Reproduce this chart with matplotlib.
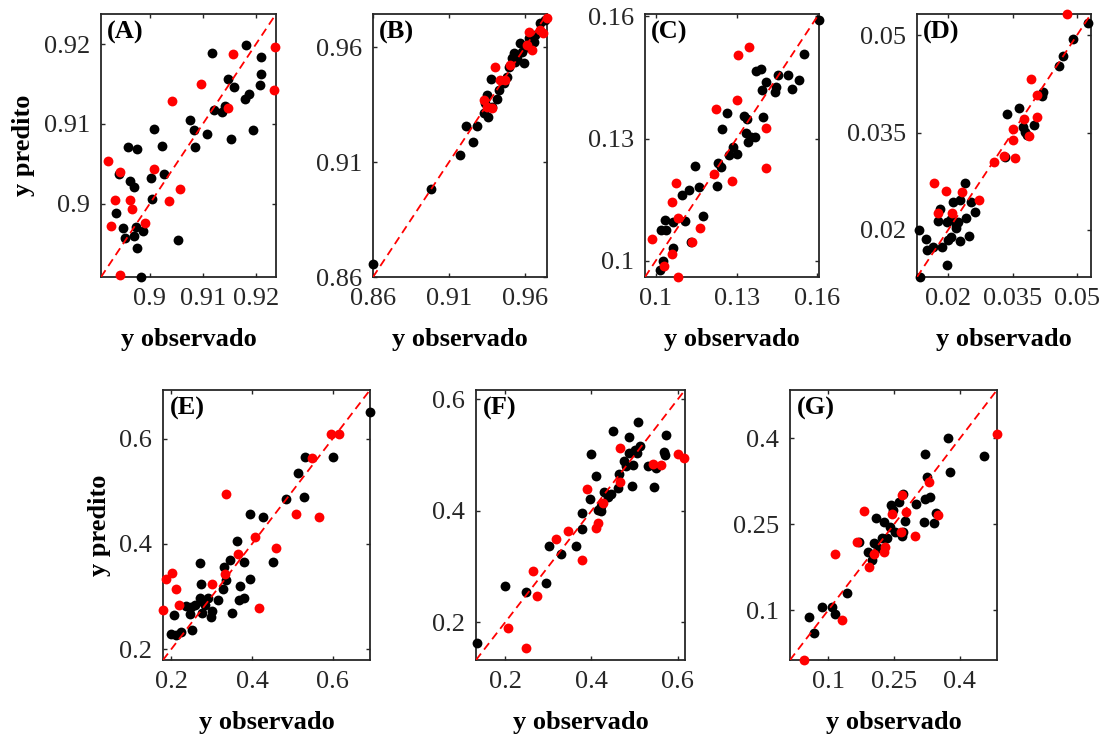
import matplotlib
matplotlib.use('Agg')
import matplotlib.pyplot as plt

plt.rcParams['font.family'] = ['Liberation Serif', 'DejaVu Serif']

# ---------------- data (black = training, red = test) ----------------
a_obs_k = [0.9117, 0.9182, 0.9209, 0.9210, 0.9207, 0.9148, 0.9158, 0.9188, 0.9180, 0.9121, 0.9136, 0.9141,
           0.9076, 0.9084, 0.9108, 0.9086, 0.9153, 0.9194, 0.9007, 0.9023, 0.8959, 0.8975, 0.8941, 0.8963,
           0.8970, 0.9002, 0.9026, 0.9004, 0.8936, 0.8949, 0.8974, 0.8988, 0.8954, 0.8971, 0.8976, 0.9054, 0.8983]
a_pred_k = [0.9189, 0.9199, 0.9184, 0.9163, 0.9149, 0.9156, 0.9146, 0.9137, 0.9131, 0.9117, 0.9115, 0.9122,
            0.9105, 0.9092, 0.9087, 0.9071, 0.9081, 0.9093, 0.9094, 0.9073, 0.9071, 0.9068, 0.9037, 0.9029,
            0.9021, 0.9032, 0.9037, 0.9006, 0.8988, 0.8970, 0.8971, 0.8966, 0.8957, 0.8959, 0.8944, 0.8955, 0.8908]
a_obs_r = [0.9156, 0.9236, 0.9235, 0.9096, 0.9041, 0.9148, 0.8922, 0.8943, 0.9007, 0.9057, 0.8934, 0.8963,
           0.8966, 0.9036, 0.8927, 0.8991, 0.8943]
a_pred_r = [0.9188, 0.9197, 0.9143, 0.9150, 0.9129, 0.9120, 0.9053, 0.9040, 0.9044, 0.9019, 0.9004, 0.9004,
            0.8993, 0.9003, 0.8972, 0.8976, 0.8911]

b_obs_k = [0.8600, 0.8984, 0.9175, 0.9256, 0.9214, 0.9284, 0.9332, 0.9357, 0.9350, 0.9376, 0.9416, 0.9427,
           0.9482, 0.9493, 0.9525, 0.9547, 0.9569, 0.9591, 0.9613, 0.9657, 0.9701, 0.9734, 0.9668, 0.9383,
           0.9460, 0.9536, 0.9339, 0.9624, 0.9580, 0.9514]
b_pred_k = [0.8655, 0.8981, 0.9130, 0.9188, 0.9257, 0.9257, 0.9312, 0.9295, 0.9392, 0.9462, 0.9373, 0.9414,
            0.9472, 0.9515, 0.9574, 0.9552, 0.9617, 0.9530, 0.9603, 0.9624, 0.9704, 0.9719, 0.9653, 0.9341,
            0.9443, 0.9537, 0.9356, 0.9639, 0.9581, 0.9552]
b_obs_r = [0.9405, 0.9328, 0.9383, 0.9438, 0.9504, 0.9624, 0.9646, 0.9701, 0.9718, 0.9745, 0.9613, 0.9471, 0.9350]
b_pred_r = [0.9515, 0.9370, 0.9334, 0.9457, 0.9523, 0.9668, 0.9588, 0.9675, 0.9661, 0.9726, 0.9610, 0.9457, 0.9341]

c_obs_k = [0.1606, 0.1549, 0.1371, 0.1392, 0.1452, 0.1492, 0.1532, 0.1411, 0.1393, 0.1448, 0.1442, 0.1506,
           0.1263, 0.1327, 0.1339, 0.1398, 0.1245, 0.1334, 0.1355, 0.1368, 0.1343, 0.1287, 0.1300, 0.1272,
           0.1232, 0.1244, 0.1145, 0.1226, 0.1096, 0.1124, 0.1160, 0.1176, 0.1034, 0.1065, 0.1108, 0.1018,
           0.1038, 0.1129, 0.1063, 0.1028, 0.1016]
c_pred_k = [0.1591, 0.1507, 0.1467, 0.1470, 0.1455, 0.1457, 0.1445, 0.1440, 0.1419, 0.1426, 0.1415, 0.1421,
            0.1363, 0.1355, 0.1349, 0.1354, 0.1323, 0.1313, 0.1304, 0.1303, 0.1292, 0.1280, 0.1262, 0.1259,
            0.1239, 0.1231, 0.1233, 0.1183, 0.1161, 0.1173, 0.1181, 0.1109, 0.1101, 0.1095, 0.1098, 0.1075,
            0.1075, 0.1046, 0.1031, 0.0999, 0.0978]
c_obs_r = [0.1345, 0.1305, 0.1302, 0.1223, 0.1411, 0.1411, 0.1216, 0.1282, 0.1075, 0.1061, 0.1084, 0.1166,
           0.0985, 0.1134, 0.1059, 0.1032, 0.1084]
c_pred_r = [0.1526, 0.1505, 0.1395, 0.1372, 0.1327, 0.1228, 0.1214, 0.1196, 0.1191, 0.1144, 0.1106, 0.1081,
            0.1053, 0.1045, 0.1016, 0.0987, 0.0960]

d_obs_k = [0.0525, 0.0491, 0.0468, 0.0458, 0.0422, 0.0419, 0.0366, 0.0337, 0.0375, 0.0379, 0.0383, 0.0400,
           0.0332, 0.0239, 0.0227, 0.0211, 0.0253, 0.0180, 0.0176, 0.0196, 0.0207, 0.0223, 0.0242, 0.0262,
           0.0219, 0.0200, 0.0207, 0.0185, 0.0164, 0.0150, 0.0149, 0.0132, 0.0228, 0.0248, 0.0198, 0.0133, 0.0219]
d_pred_k = [0.0519, 0.0495, 0.0468, 0.0452, 0.0413, 0.0407, 0.0388, 0.0379, 0.0359, 0.0351, 0.0346, 0.0361,
            0.0313, 0.0272, 0.0246, 0.0243, 0.0243, 0.0232, 0.0214, 0.0212, 0.0217, 0.0212, 0.0218, 0.0228,
            0.0202, 0.0184, 0.0188, 0.0173, 0.0173, 0.0168, 0.0186, 0.0200, 0.0183, 0.0190, 0.0145, 0.0127, 0.0207]
d_obs_r = [0.0476, 0.0394, 0.0408, 0.0407, 0.0377, 0.0352, 0.0388, 0.0351, 0.0329, 0.0355, 0.0307, 0.0167,
           0.0194, 0.0231, 0.0272, 0.0176, 0.0209]
d_pred_r = [0.0533, 0.0432, 0.0408, 0.0374, 0.0371, 0.0355, 0.0344, 0.0339, 0.0314, 0.0310, 0.0305, 0.0272,
            0.0260, 0.0258, 0.0246, 0.0226, 0.0226]

e_obs_k = [0.692, 0.5995, 0.5318, 0.5128, 0.4831, 0.5277, 0.3947, 0.4277, 0.3633, 0.3468, 0.3303, 0.3798,
           0.4525, 0.2717, 0.3369, 0.2750, 0.3947, 0.3716, 0.3286, 0.2708, 0.2915, 0.3163, 0.2791, 0.3683,
           0.3798, 0.2378, 0.2502, 0.2585, 0.2832, 0.2461, 0.2774, 0.3022, 0.2997, 0.3518, 0.2064, 0.2527,
           0.2238, 0.2006, 0.2130]
e_pred_k = [0.6497, 0.5656, 0.5656, 0.5340, 0.4853, 0.4885, 0.4562, 0.4505, 0.4057, 0.3696, 0.3570, 0.3665,
            0.3665, 0.3633, 0.3317, 0.3235, 0.3336, 0.3203, 0.3146, 0.2969, 0.2982, 0.2938, 0.2906, 0.2938,
            0.2969, 0.2830, 0.2811, 0.2843, 0.2843, 0.2666, 0.2685, 0.2729, 0.2622, 0.2685, 0.2653, 0.2369,
            0.2337, 0.2287, 0.2274]
e_obs_r = [0.5954, 0.6160, 0.5475, 0.3353, 0.5087, 0.5665, 0.4079, 0.4591, 0.3666, 0.3328, 0.3006, 0.1883,
           0.2023, 0.2130, 0.2196, 0.4170, 0.1800]
e_pred_r = [0.6086, 0.6086, 0.5637, 0.4948, 0.4562, 0.4505, 0.4126, 0.3918, 0.3804, 0.3431, 0.3241, 0.3336,
            0.3443, 0.3140, 0.2843, 0.2792, 0.2748]

f_obs_k = [0.5087, 0.4507, 0.4870, 0.5737, 0.5126, 0.5010, 0.4870, 0.5048, 0.5690, 0.5706, 0.3989, 0.4747,
           0.4955, 0.4801, 0.5304, 0.5489, 0.4646, 0.4097, 0.4948, 0.5458, 0.4623, 0.4298, 0.4453, 0.4375,
           0.3973, 0.4221, 0.4143, 0.4221, 0.3787, 0.3772, 0.3640, 0.3014, 0.3292, 0.2937, 0.2473, 0.1993, 0.1335]
f_pred_k = [0.5601, 0.5434, 0.5332, 0.5362, 0.5170, 0.5092, 0.5033, 0.5033, 0.5063, 0.5003, 0.5015, 0.4895,
            0.4823, 0.4811, 0.4811, 0.4775, 0.4655, 0.4631, 0.4452, 0.4434, 0.4404, 0.4332, 0.4296, 0.4254,
            0.4206, 0.4092, 0.4015, 0.3997, 0.3961, 0.3673, 0.3374, 0.3374, 0.3224, 0.2697, 0.2536, 0.2649, 0.1619]
f_obs_r = [0.4662, 0.6015, 0.6147, 0.5435, 0.5613, 0.4669, 0.3888, 0.4259, 0.4159, 0.4105, 0.3463, 0.3169,
           0.3772, 0.2650, 0.2743, 0.2070, 0.2480]
f_pred_r = [0.5134, 0.5015, 0.4955, 0.4835, 0.4823, 0.4512, 0.4392, 0.4134, 0.3775, 0.3685, 0.3637, 0.3494,
            0.3116, 0.2925, 0.2476, 0.1901, 0.1530]

g_obs_k = [0.3719, 0.3194, 0.4557, 0.3780, 0.3247, 0.3323, 0.3194, 0.2714, 0.2615, 0.3004, 0.2433, 0.2486,
           0.3453, 0.2083, 0.2752, 0.3179, 0.3400, 0.2280, 0.2410, 0.2524, 0.2714, 0.2676, 0.1702, 0.2052,
           0.2220, 0.2334, 0.1900, 0.1991, 0.1420, 0.0849, 0.1078, 0.1154, 0.0568, 0.0674, 0.2128]
g_pred_k = [0.4013, 0.3727, 0.3698, 0.3418, 0.3331, 0.2981, 0.2940, 0.3022, 0.2894, 0.2853, 0.2836, 0.2748,
            0.2690, 0.2602, 0.2556, 0.2544, 0.2515, 0.2533, 0.2457, 0.2369, 0.2369, 0.2299, 0.2195, 0.2165,
            0.2264, 0.2253, 0.2020, 0.1874, 0.1291, 0.1047, 0.1047, 0.0930, 0.0884, 0.0592, 0.2078]
g_obs_r = [0.4846, 0.3293, 0.2684, 0.1808, 0.2448, 0.2768, 0.3499, 0.2661, 0.2966, 0.1664, 0.2303, 0.2258,
           0.2052, 0.1154, 0.1930, 0.1306, 0.0453]
g_pred_r = [0.4077, 0.3243, 0.3010, 0.2731, 0.2678, 0.2707, 0.2661, 0.2369, 0.2299, 0.2195, 0.2107, 0.2020,
            0.1973, 0.1979, 0.1758, 0.0825, 0.0126]

panel_tags = ['(A)', '(B)', '(C)', '(D)', '(E)', '(F)', '(G)']
panel_limits = [[0.8908, 0.9238], [0.8600, 0.9745], [0.0960, 0.1606], [0.0127, 0.0533],
                [0.180, 0.692], [0.132, 0.617], [0.0126, 0.4846]]
tick_values = [[0.90, 0.91, 0.92], [0.86, 0.91, 0.96], [0.10, 0.13, 0.16], [0.02, 0.035, 0.05],
               [0.2, 0.4, 0.6], [0.2, 0.4, 0.6], [0.1, 0.25, 0.4]]
tick_labels = [['0.9', '0.91', '0.92'], ['0.86', '0.91', '0.96'], ['0.1', '0.13', '0.16'],
               ['0.02', '0.035', '0.05'], ['0.2', '0.4', '0.6'], ['0.2', '0.4', '0.6'],
               ['0.1', '0.25', '0.4']]

series = [(a_obs_k, a_pred_k, a_obs_r, a_pred_r), (b_obs_k, b_pred_k, b_obs_r, b_pred_r),
          (c_obs_k, c_pred_k, c_obs_r, c_pred_r), (d_obs_k, d_pred_k, d_obs_r, d_pred_r),
          (e_obs_k, e_pred_k, e_obs_r, e_pred_r), (f_obs_k, f_pred_k, f_obs_r, f_pred_r),
          (g_obs_k, g_pred_k, g_obs_r, g_pred_r)]

# ---------------- layout (pixels of a 1110x737 canvas) ----------------
W, H = 1110, 737
boxes_px = [(101, 14, 276, 277), (373, 14, 547, 277), (645, 14, 819, 277), (917, 14, 1091, 277),
            (163, 390, 370, 660), (476, 390, 685, 660), (790, 390, 997, 660)]

fig = plt.figure(figsize=(W / 100, H / 100), dpi=100)
edge = '#262626'
fs = 19

for i, (l, t, r, b) in enumerate(boxes_px):
    ax = fig.add_axes([l / W, 1 - b / H, (r - l) / W, (b - t) / H])
    ok, pk, orr, pr = series[i]
    lim = panel_limits[i]
    ax.scatter(ok, pk, s=50, c='black', linewidths=0, clip_on=False, zorder=3)
    ax.scatter(orr, pr, s=50, c='#ff0000', linewidths=0, clip_on=False, zorder=3)
    ax.plot(lim, lim, color='#ff0000', lw=1.3, ls=(0, (4.5, 2.8)), zorder=4)
    ax.set_xlim(lim)
    ax.set_ylim(lim)
    ax.set_xticks(tick_values[i])
    ax.set_xticklabels(tick_labels[i])
    ax.set_yticks(tick_values[i])
    ax.set_yticklabels(tick_labels[i])
    ax.tick_params(direction='in', top=True, right=True, length=3, width=1.0,
                   labelsize=fs, pad=8, color=edge, labelcolor=edge)
    for sp in ax.spines.values():
        sp.set_linewidth(1.3)
        sp.set_color(edge)
    ax.set_xlabel('y observado', fontsize=fs, fontweight='bold', labelpad=13)
    if i in (0, 4):
        ax.set_ylabel('y predito', fontsize=fs, fontweight='bold', labelpad=6)
    ax.text(0.035, 0.975, panel_tags[i], transform=ax.transAxes, fontsize=fs,
            fontweight='bold', va='top', ha='left', zorder=5)

fig.savefig('out.png', dpi=100)
